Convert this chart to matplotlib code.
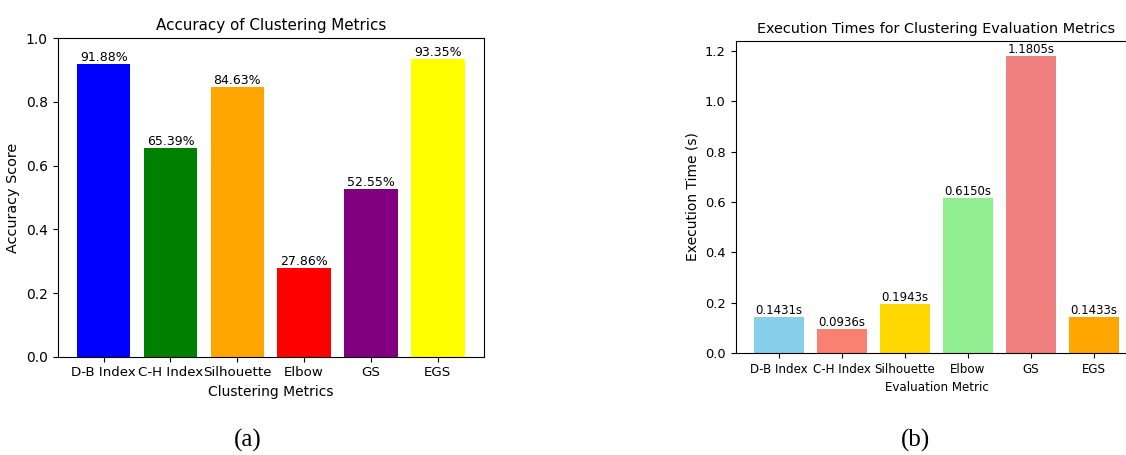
import matplotlib
matplotlib.use("Agg")
import matplotlib.pyplot as plt

# data
metrics = ["D-B Index", "C-H Index", "Silhouette", "Elbow", "GS", "EGS"]
accuracy = [0.9188, 0.6539, 0.8463, 0.2786, 0.5255, 0.9335]
exec_times = [0.1431, 0.0936, 0.1943, 0.6150, 1.1805, 0.1433]

acc_colors = ["blue", "green", "orange", "red", "purple", "yellow"]
time_colors = ["skyblue", "salmon", "gold", "lightgreen", "lightcoral", "orange"]

W, H = 1126, 455
fig = plt.figure(figsize=(W / 100, H / 100), dpi=100)


def box(l, r, t, b):
    # pixel box -> figure fraction
    return [l / W, (H - b) / H, (r - l) / W, (b - t) / H]


# (a) accuracy
ax1 = fig.add_axes(box(57.5, 484, 38.3, 356.7))
bars = ax1.bar(metrics, accuracy, color=acc_colors)
for b, v in zip(bars, accuracy):
    ax1.text(b.get_x() + b.get_width() / 2, v, "%.2f%%" % (v * 100),
             ha="center", va="bottom", fontsize=9)
ax1.set_ylim(0, 1.0)
ax1.set_title("Accuracy of Clustering Metrics", fontsize=10.9)
ax1.set_xlabel("Clustering Metrics", fontsize=10)
ax1.set_ylabel("Accuracy Score", fontsize=10.4)
ax1.tick_params(axis="x", labelsize=9.6)
ax1.tick_params(axis="y", labelsize=10)

# (b) execution times, axes runs past the right edge like the source crop
ax2 = fig.add_axes(box(735.5, 1137.5, 41, 353))
bars = ax2.bar(metrics, exec_times, color=time_colors)
for b, v in zip(bars, exec_times):
    ax2.text(b.get_x() + b.get_width() / 2, v, "%.4fs" % v,
             ha="center", va="bottom", fontsize=8.5)
ax2.set_title("Execution Times for Clustering Evaluation Metrics", fontsize=10.4)
ax2.set_xlabel("Evaluation Metric", fontsize=8.6)
ax2.set_ylabel("Execution Time (s)", fontsize=10)
ax2.tick_params(axis="x", labelsize=8.6)
ax2.tick_params(axis="y", labelsize=9.4)

fig.text(248 / W, 1 - 440 / H, "(a)", ha="center", va="center",
         fontsize=18, family="Liberation Serif")
fig.text(915 / W, 1 - 440 / H, "(b)", ha="center", va="center",
         fontsize=18, family="Liberation Serif")

fig.savefig("out.png", dpi=100)
